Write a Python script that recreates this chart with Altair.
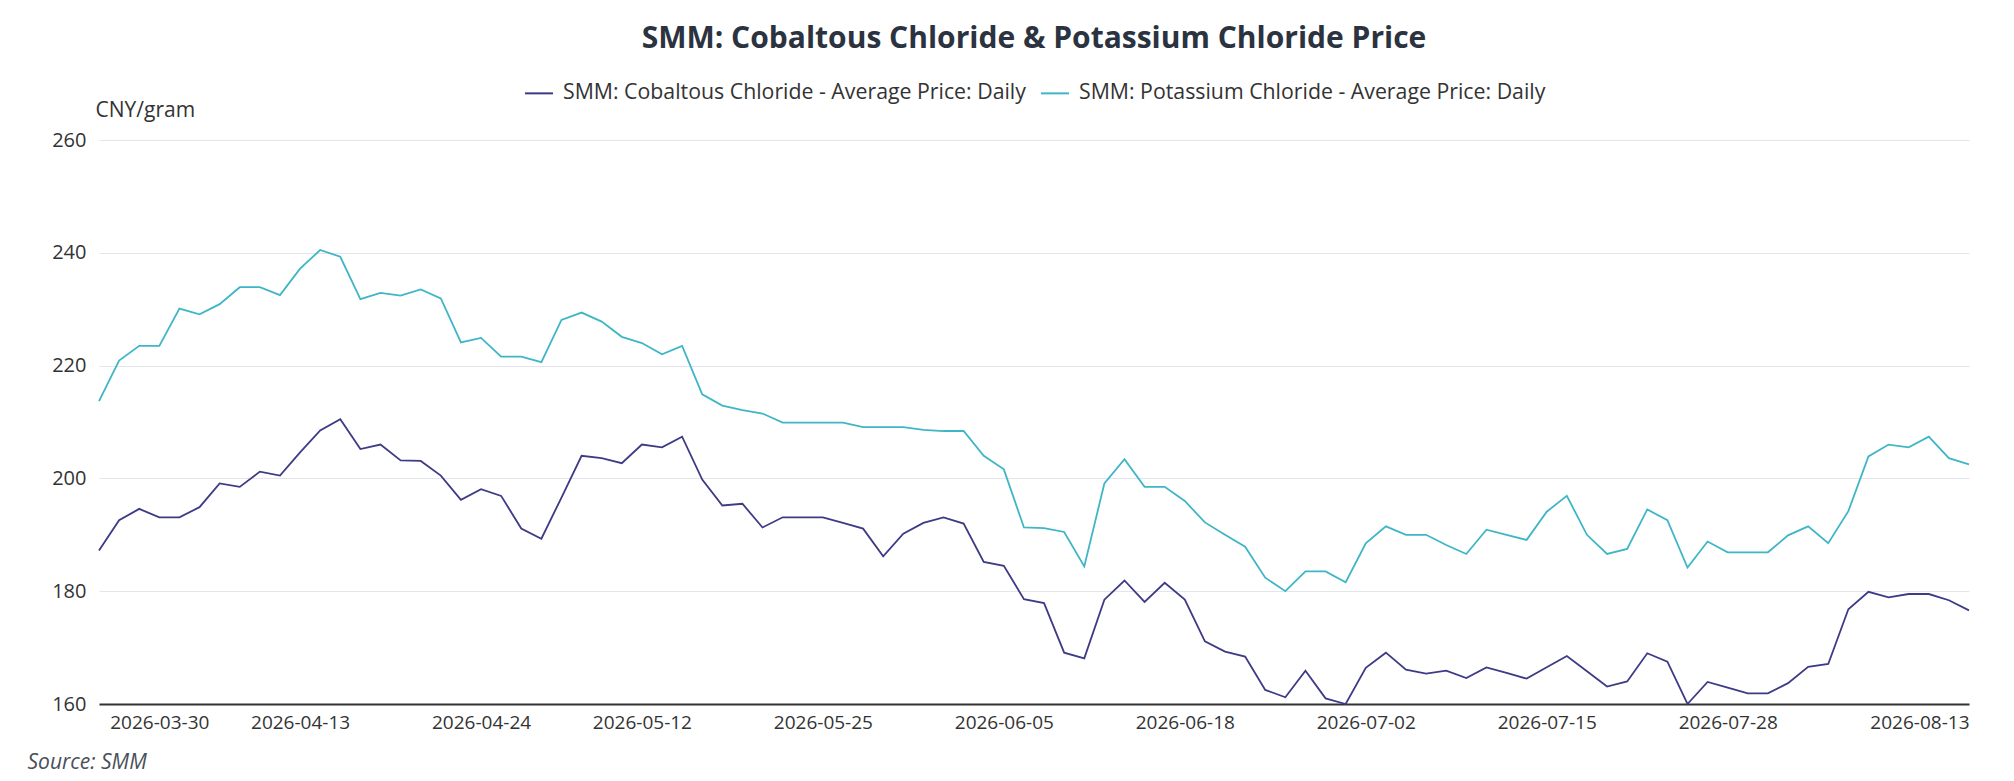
import altair as alt
import pandas as pd

# ---- data (94 daily points) ----
cobalt = [
    187.2, 192.6, 194.6, 193.1, 193.1, 194.9, 199.1, 198.5, 201.2, 200.5,
    204.6, 208.5, 210.5, 205.2, 206.0, 203.2, 203.1, 200.5, 196.2, 198.1,
    196.9, 191.1, 189.3, 196.6, 204.0, 203.6, 202.7, 206.0, 205.5, 207.4,
    199.8, 195.2, 195.5, 191.3, 193.1, 193.1, 193.1, 192.1, 191.1, 186.2,
    190.2, 192.1, 193.1, 192.0, 185.2, 184.5, 178.6, 177.9, 169.1, 168.1,
    178.5, 181.9, 178.1, 181.5, 178.5, 171.1, 169.3, 168.4, 162.5, 161.2,
    165.9, 161.0, 160.0, 166.4, 169.1, 166.1, 165.4, 165.9, 164.6, 166.5,
    165.5, 164.5, 166.5, 168.5, 165.8, 163.1, 164.0, 169.0, 167.5, 160.0,
    163.9, 162.9, 161.9, 161.9, 163.7, 166.6, 167.1, 176.8, 179.9, 178.9,
    179.5, 179.5, 178.4, 176.6,
]
potassium = [
    213.7, 220.9, 223.5, 223.5, 230.1, 229.1, 230.9, 233.9, 233.9, 232.5,
    237.2, 240.5, 239.3, 231.8, 232.9, 232.4, 233.5, 231.9, 224.1, 224.9,
    221.6, 221.6, 220.6, 228.1, 229.4, 227.8, 225.1, 224.0, 222.0, 223.5,
    214.9, 212.9, 212.1, 211.5, 209.9, 209.9, 209.9, 209.9, 209.1, 209.1,
    209.1, 208.6, 208.4, 208.4, 204.0, 201.6, 191.3, 191.2, 190.5, 184.4,
    199.1, 203.4, 198.5, 198.5, 196.0, 192.2, 190.0, 187.9, 182.4, 180.0,
    183.5, 183.5, 181.6, 188.5, 191.5, 190.0, 190.0, 188.2, 186.6, 190.9,
    190.0, 189.1, 194.1, 196.9, 190.0, 186.6, 187.5, 194.5, 192.6, 184.2,
    188.8, 186.9, 186.9, 186.9, 189.9, 191.5, 188.5, 194.2, 203.9, 206.0,
    205.5, 207.4, 203.6, 202.5,
]
series_names = [
    "SMM: Cobaltous Chloride - Average Price: Daily",
    "SMM: Potassium Chloride - Average Price: Daily",
]
series_colors = ["#3d3b85", "#3fb6c6"]

# x-axis tick labels and the point index each one sits on
tick_index = [3, 10, 19, 27, 36, 45, 54, 63, 72, 81, 93]
tick_labels = [
    "2026-03-30", "2026-04-13", "2026-04-24", "2026-05-12", "2026-05-25",
    "2026-06-05", "2026-06-18", "2026-07-02", "2026-07-15", "2026-07-28",
    "2026-08-13",
]
y_ticks = [160, 180, 200, 220, 240, 260]

rows = []
for name, vals in zip(series_names, [cobalt, potassium]):
    for i, v in enumerate(vals):
        rows.append({"idx": i, "value": v, "series": name})
df = pd.DataFrame(rows)

label_expr = " : ".join(
    f"datum.value == {i} ? '{t}'" for i, t in zip(tick_index, tick_labels)
) + " : ''"

FONT = "Open Sans"

chart = (
    alt.Chart(df)
    .mark_line(strokeWidth=1.8, clip=False)
    .encode(
        x=alt.X(
            "idx:Q",
            scale=alt.Scale(domain=[0, len(cobalt) - 1], nice=False, zero=False),
            axis=alt.Axis(
                values=tick_index,
                labelExpr=label_expr,
                grid=False,
                ticks=False,
                tickSize=0,
                domain=True,
                domainColor="#333333",
                domainWidth=2,
                labelFont=FONT,
                labelFontSize=19,
                labelColor="#333333",
                labelPadding=9,
                labelFlush=True,
                labelOverlap=False,
                title="Source: SMM",
                titleFont=FONT,
                titleFontSize=21,
                titleFontStyle="italic",
                titleFontWeight="normal",
                titleColor="#4a4f5a",
                titleAlign="left",
                titleBaseline="middle",
                titleX=-72,
                titleY=58,
            ),
        ),
        y=alt.Y(
            "value:Q",
            scale=alt.Scale(domain=[160, 260], nice=False, zero=False),
            axis=alt.Axis(
                values=y_ticks,
                grid=True,
                gridColor="#e4e4ec",
                gridWidth=1,
                domain=False,
                ticks=False,
                tickSize=0,
                labelFont=FONT,
                labelFontSize=20,
                labelColor="#333333",
                labelPadding=13,
                title="CNY/gram",
                titleFont=FONT,
                titleFontSize=21,
                titleFontWeight="normal",
                titleColor="#333333",
                titleAngle=0,
                titleAlign="left",
                titleBaseline="middle",
                titleX=-4,
                titleY=-30,
            ),
        ),
        color=alt.Color(
            "series:N",
            scale=alt.Scale(domain=series_names, range=series_colors),
            legend=alt.Legend(
                orient="none",
                legendX=425,
                legendY=-62,
                direction="horizontal",
                title=None,
                symbolType="stroke",
                symbolSize=784,
                symbolStrokeWidth=2,
                labelFont=FONT,
                labelFontSize=21.3,
                labelColor="#333333",
                labelOffset=9,
                columnPadding=11,
                labelLimit=0,
            ),
        ),
    )
    .properties(
        width=1870,
        height=564,
        title=alt.Title(
            "SMM: Cobaltous Chloride & Potassium Chloride Price",
            font=FONT,
            fontSize=30,
            fontWeight="bold",
            color="#2b3340",
            anchor="middle",
            offset=24,
        ),
        autosize=alt.AutoSizeParams(type="none"),
        padding={"left": 91, "top": 132, "right": 37, "bottom": 69},
    )
    .configure(background="#ffffff")
    .configure_view(stroke=None)
)

chart.save("out.html", embed_options={"renderer": "svg", "actions": False})
